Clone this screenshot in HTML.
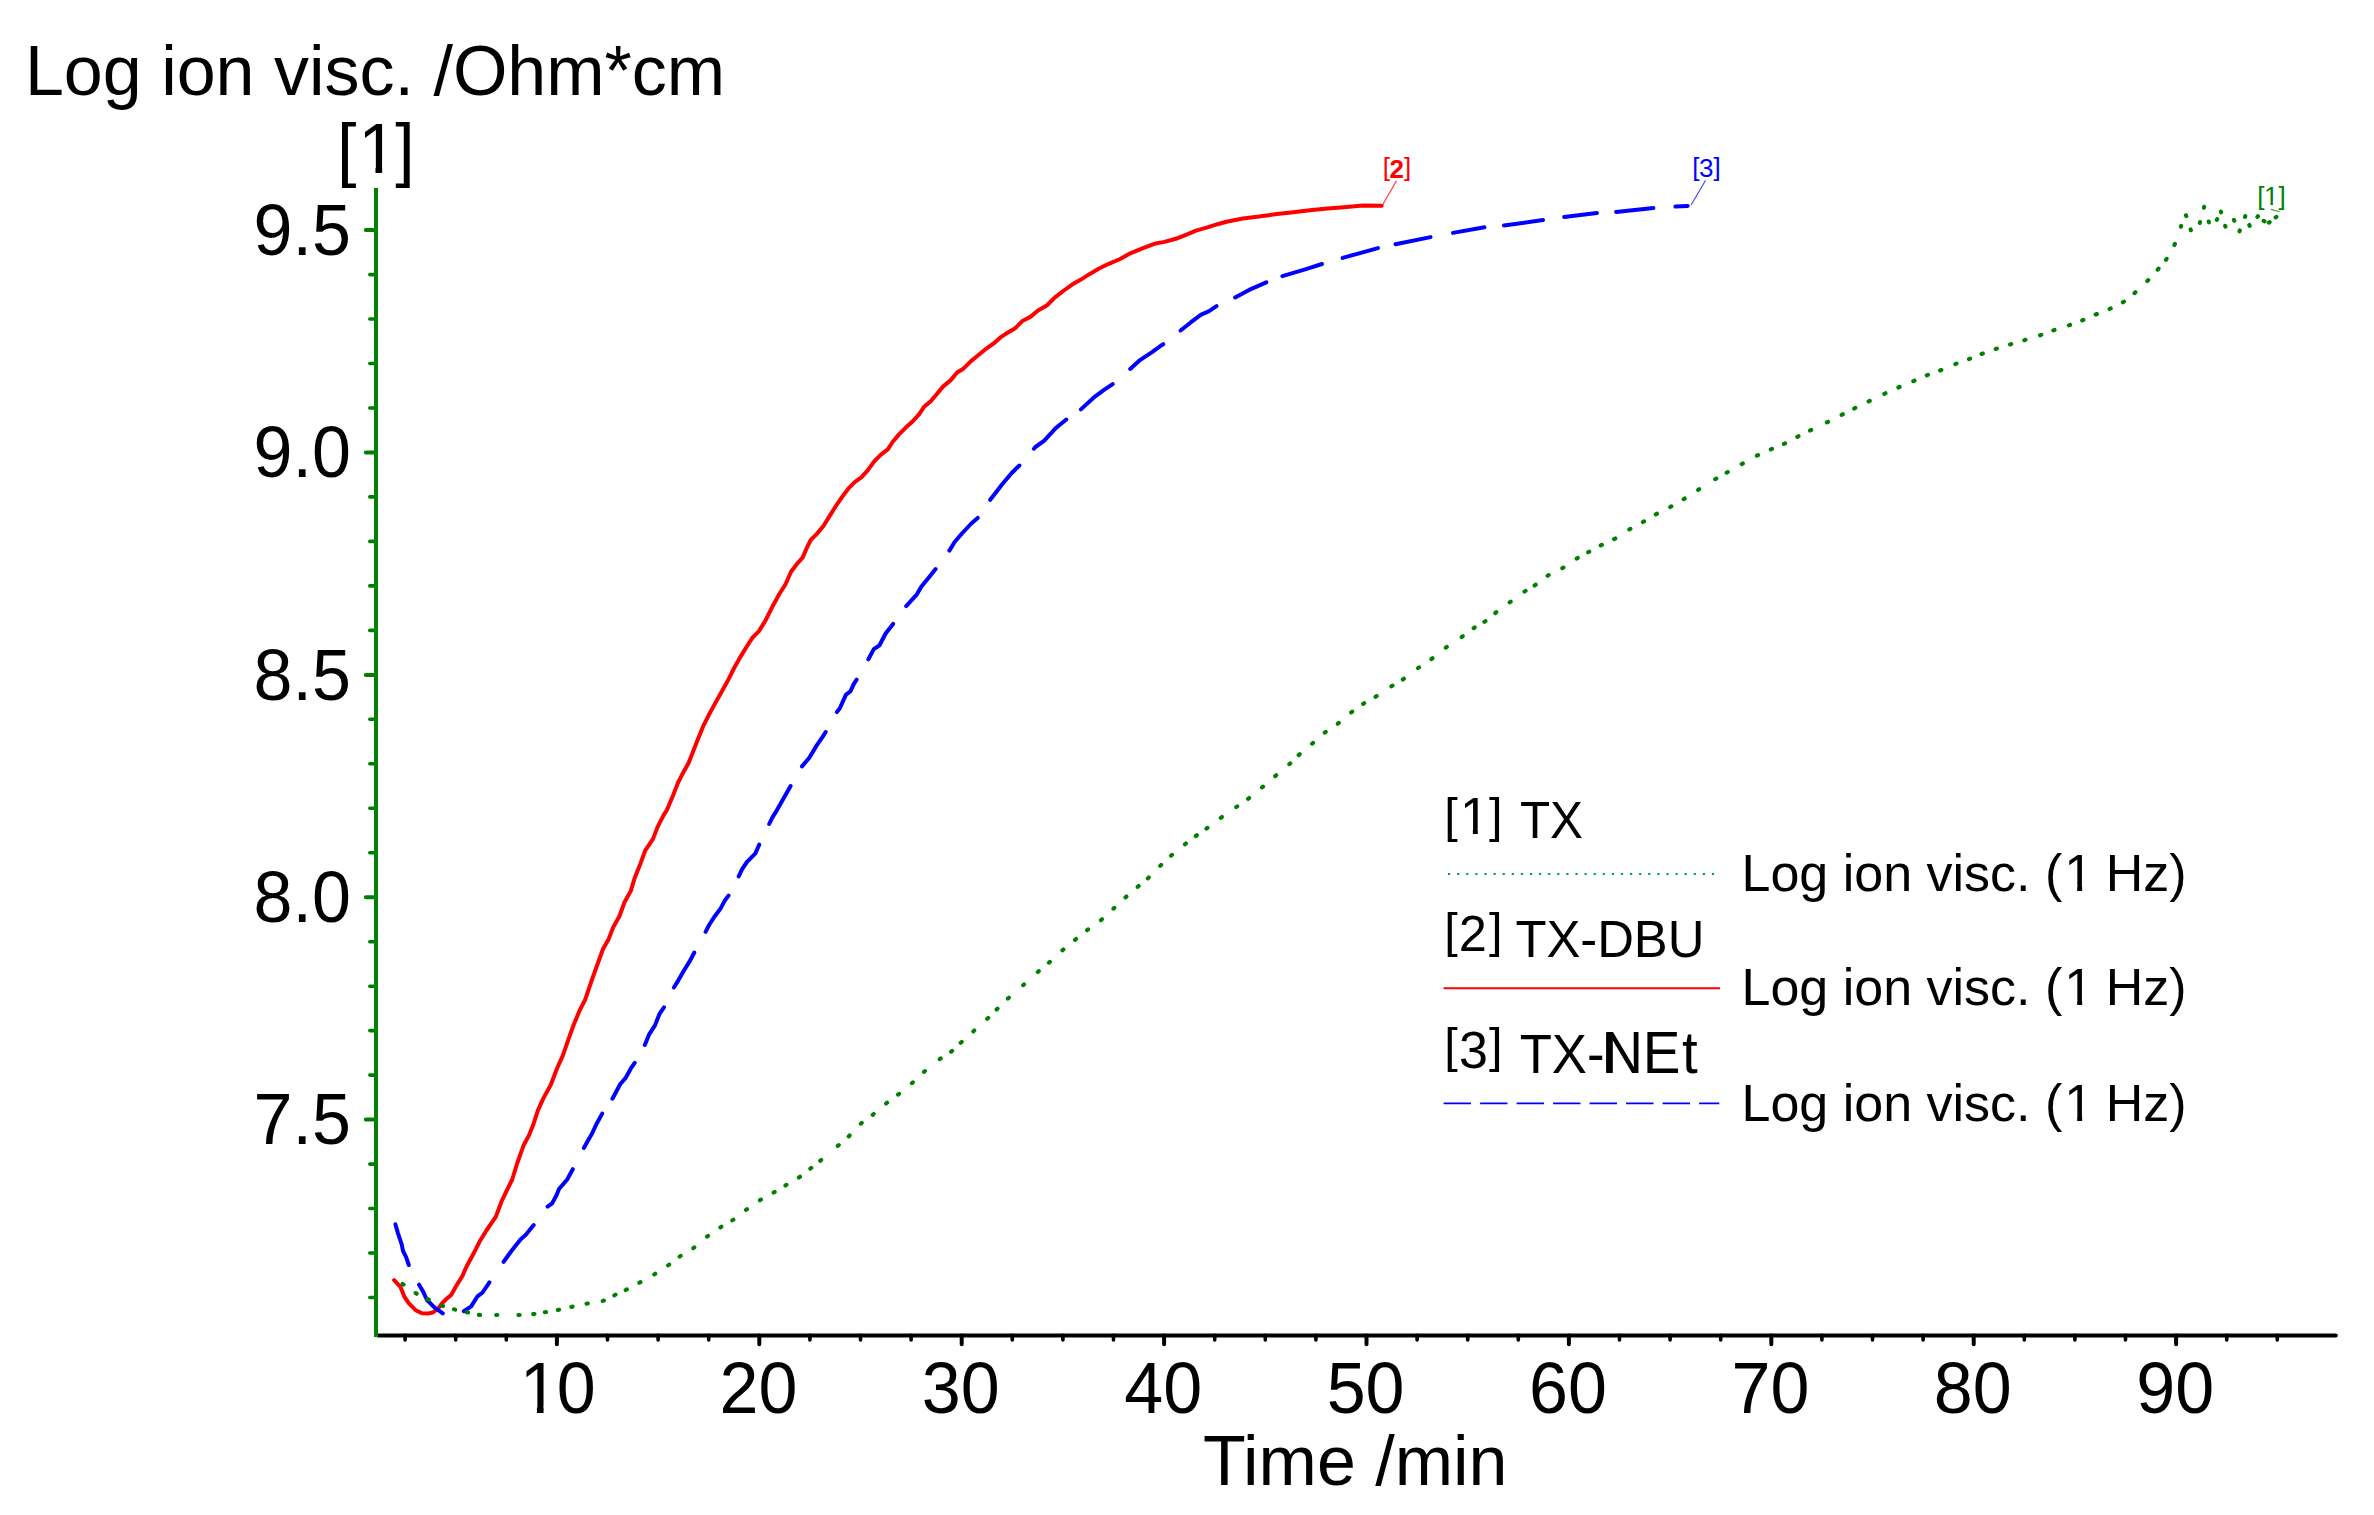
<!DOCTYPE html>
<html lang="en"><head><meta charset="utf-8"><title>Log ion visc. vs Time</title>
<style>html,body{margin:0;padding:0;background:#fff}body{width:2374px;height:1515px;overflow:hidden}svg{display:block}text{font-family:"Liberation Sans",Arial,Helvetica,sans-serif;fill:#000}</style></head><body>
<svg width="2374" height="1515" viewBox="0 0 2374 1515">
<rect width="2374" height="1515" fill="#fff"/>
<g fill="none" stroke-linejoin="round" stroke-linecap="round">
<path id="cred" d="M394.1 1280.1 L400.4 1286.8 L404.2 1296.3 L408.7 1303.2 L415.6 1310.2 L421.9 1313.3 L428.2 1313.6 L433.3 1312.3 L438.4 1308.3 L442.1 1303.2 L446.6 1298.8 L451.6 1294.4 L456.0 1286.2 L462.4 1276.0 L466.2 1267.2 L473.7 1253.3 L480.1 1240.7 L486.4 1230.5 L495.9 1216.6 L501.5 1201.5 L507.2 1189.6 L512.2 1179.5 L517.3 1163.0 L523.6 1145.3 L528.7 1135.9 L533.1 1125.1 L538.1 1109.9 L543.2 1098.6 L550.8 1084.7 L557.1 1068.2 L562.8 1055.6 L568.5 1039.2 L573.5 1025.3 L579.8 1010.1 L585.1 999.8 L591.6 980.6 L596.6 966.7 L603.0 949.0 L608.7 938.9 L613.1 927.5 L619.4 916.2 L624.5 902.3 L630.8 890.9 L634.6 878.2 L640.2 864.3 L645.3 850.4 L652.9 839.1 L657.3 827.7 L663.6 815.1 L667.0 809.8 L672.9 795.7 L677.9 783.0 L683.0 772.9 L688.7 762.8 L693.1 751.4 L698.1 738.8 L703.2 726.2 L708.9 714.8 L715.8 702.1 L721.5 692.0 L728.5 679.4 L734.1 668.0 L739.8 657.9 L746.8 646.5 L752.5 637.7 L758.8 631.4 L765.5 620.5 L772.9 605.7 L779.2 594.3 L785.5 584.2 L791.2 571.5 L796.9 564.0 L802.6 557.6 L807.0 547.5 L810.8 539.9 L817.1 533.6 L823.4 526.0 L829.7 515.9 L836.0 505.8 L843.0 495.7 L848.7 488.1 L855.0 481.8 L861.3 477.4 L867.7 470.4 L874.0 461.6 L880.9 454.6 L887.8 449.3 L892.6 442.0 L899.0 434.4 L905.3 428.1 L912.2 421.8 L919.2 414.2 L924.2 406.6 L930.5 401.5 L936.9 394.0 L943.2 386.4 L950.8 380.1 L957.1 372.5 L963.4 368.7 L971.0 361.1 L977.3 356.0 L984.9 349.7 L993.7 343.4 L1000.1 337.7 L1007.6 332.7 L1015.2 328.2 L1022.8 320.7 L1030.4 316.9 L1038.0 310.5 L1046.8 305.5 L1054.4 297.9 L1063.2 291.0 L1072.1 284.6 L1080.9 279.6 L1089.8 273.9 L1098.6 268.8 L1108.7 263.8 L1120.2 259.0 L1130.3 253.3 L1143.0 248.2 L1154.3 243.8 L1164.5 241.9 L1175.8 238.8 L1187.2 234.3 L1196.0 230.6 L1207.4 227.4 L1217.5 224.2 L1226.4 221.7 L1242.8 218.5 L1259.2 216.6 L1276.9 214.1 L1293.4 212.2 L1309.8 210.3 L1327.5 208.4 L1343.9 207.2 L1362.9 205.5 L1381.7 205.7" stroke="#ff0000" stroke-width="4"/>
<path id="cblue" d="M395.4 1224.2L397.9 1233.1L401.7 1244.4L403.0 1250.8L406.1 1257.1L408.8 1265.0M419.1 1284.7L423.2 1291.8L427.0 1300.0L434.6 1307.6L442.8 1313.4M463.8 1311.2L471.2 1306.4L477.5 1296.3L482.6 1292.5L489.4 1282.4M503.6 1261.8L511.6 1250.8L520.5 1239.4L525.6 1235.0L533.7 1225.1M547.6 1206.6L552.1 1203.4L556.5 1195.2L559.0 1189.0L567.2 1179.5L572.8 1169.2M583.9 1148.0L587.4 1141.5L591.8 1134.0L596.9 1123.2L602.2 1113.6M612.4 1098.7L615.9 1092.3L620.3 1084.0L625.3 1078.4L631.0 1068.2L634.7 1062.9M644.8 1045.0L649.3 1034.1L655.0 1025.3L659.5 1013.9L664.0 1007.4M673.9 987.5L678.2 980.6L683.2 971.8L690.2 960.4L694.3 952.5M705.6 931.8L709.1 925.0L714.8 916.2L720.5 908.6L724.9 900.4L728.5 895.6M738.7 876.4L742.0 869.4L747.0 861.8L755.2 853.6L757.8 847.9L759.2 844.7M769.2 824.0L772.3 817.6L776.7 810.6L790.6 786.0M802.0 766.4L809.3 757.7L816.9 745.1L822.6 736.9L825.7 732.0M836.9 712.0L839.7 708.5L846.0 694.6L850.4 691.4L853.6 684.4L856.6 679.6M868.4 659.3L873.8 649.1L879.5 645.3L885.8 633.3L893.1 623.9M906.2 606.1L916.9 594.3L921.3 586.7L929.6 576.6L935.6 569.1M949.4 550.6L954.8 541.8L962.4 533.0L971.3 523.5L977.7 517.9M990.2 499.8L995.3 493.2L1002.2 484.3L1011.7 473.0L1019.4 465.5M1033.9 448.7L1035.4 447.0L1044.3 440.7L1055.7 428.1L1062.0 423.0L1066.3 419.5M1080.9 409.4L1093.6 397.7L1103.7 390.2L1112.7 384.1M1130.2 369.0L1140.3 359.8L1151.7 352.3L1160.6 345.9L1163.3 344.2M1180.6 330.5L1191.0 322.2L1201.1 314.6L1208.7 311.4L1216.5 306.2M1235.1 297.5L1249.1 289.9L1266.3 282.3M1282.4 276.1L1306.0 269.1L1322.0 264.0M1342.6 257.9L1378.0 248.1M1395.5 244.2L1430.5 237.1M1453.0 232.9L1484.4 227.3M1504.0 225.4L1543.0 220.1M1564.2 217.1L1596.9 213.1M1616.1 211.9L1653.4 208.0M1675.4 206.6L1687.7 205.9" stroke="#0000ff" stroke-width="4"/>
<path id="cgreen" d="M402.5 1283.9l1.07 0.74M415.6 1293.1l1.12 0.67M427.6 1299.1l1.18 0.55M441.8 1305.5l1.21 0.47M453.9 1309.3l1.26 0.33M466.8 1312.2l1.27 0.28M478.8 1314.9l1.29 0.12M496.1 1315.0l1.30 0.00M518.4 1315.0l1.30 -0.04M533.2 1314.1l1.29 -0.14M544.8 1312.2l1.28 -0.22M557.8 1309.9l1.27 -0.25M571.3 1306.9l1.27 -0.27M586.5 1303.7l1.28 -0.25M602.7 1300.9l1.24 -0.38M614.3 1295.3l1.17 -0.56M625.7 1290.0l1.16 -0.59M639.3 1282.7l1.14 -0.62M654.2 1274.4l1.11 -0.68M668.1 1265.3l1.06 -0.75M679.6 1256.6l1.08 -0.73M693.3 1248.2l1.05 -0.77M707.0 1236.6l1.03 -0.79M720.3 1227.4l1.09 -0.70M732.3 1220.4l1.07 -0.73M746.0 1209.9l1.05 -0.76M759.9 1200.3l1.10 -0.69M773.6 1192.6l1.12 -0.65M785.4 1185.5l1.11 -0.67M798.9 1177.5l1.07 -0.73M810.3 1168.7l1.02 -0.80M820.2 1160.8l1.00 -0.83M837.8 1145.9l0.99 -0.85M848.7 1136.4l0.94 -0.90M860.8 1123.7l0.97 -0.87M872.7 1114.8l1.02 -0.81M886.1 1103.5l1.02 -0.81M898.0 1094.6l1.02 -0.80M911.9 1083.2l0.98 -0.85M924.0 1071.9l0.98 -0.85M939.7 1059.2l1.04 -0.78M951.1 1051.7l1.02 -0.80M960.7 1042.8l0.96 -0.88M973.3 1031.4l0.96 -0.87M987.2 1018.8l0.95 -0.89M996.6 1009.5l0.93 -0.91M1007.9 998.6l0.96 -0.88M1023.1 985.2l0.97 -0.86M1037.8 972.0l0.98 -0.85M1048.9 962.7l0.98 -0.86M1062.4 950.4l0.98 -0.86M1075.0 939.8l1.01 -0.82M1087.1 930.2l1.04 -0.79M1101.0 920.1l1.01 -0.82M1113.4 908.7l0.95 -0.88M1125.5 897.4l0.97 -0.87M1137.7 886.8l0.99 -0.84M1147.8 878.4l0.95 -0.89M1160.2 865.9l0.93 -0.91M1171.0 855.7l0.98 -0.85M1184.9 844.3l1.02 -0.81M1195.8 836.0l1.05 -0.77M1206.4 828.6l1.05 -0.77M1220.8 817.8l1.05 -0.76M1236.2 807.1l1.07 -0.74M1248.1 798.8l1.03 -0.79M1262.0 787.4l1.00 -0.83M1275.2 776.1l0.99 -0.84M1289.3 764.2l0.97 -0.87M1298.7 755.1l0.97 -0.87M1312.1 743.7l0.98 -0.85M1324.7 732.6l1.03 -0.80M1337.8 723.7l1.03 -0.79M1351.2 712.4l1.03 -0.80M1363.1 703.9l1.10 -0.70M1375.6 696.8l1.10 -0.69M1391.4 686.3l1.09 -0.70M1402.8 679.5l1.07 -0.73M1418.0 668.1l1.06 -0.76M1431.4 659.0l1.05 -0.77M1445.8 647.7l1.05 -0.76M1461.7 637.0l1.06 -0.75M1473.6 628.2l1.08 -0.72M1484.4 621.9l1.06 -0.75M1495.3 613.0l1.03 -0.79M1509.7 602.4l1.05 -0.77M1524.5 591.6l1.08 -0.73M1534.6 585.5l1.08 -0.73M1547.6 575.8l1.11 -0.68M1562.3 568.2l1.12 -0.66M1576.7 558.6l1.11 -0.68M1588.1 552.3l1.14 -0.63M1600.7 545.4l1.16 -0.59M1614.1 539.1l1.14 -0.63M1629.3 529.5l1.12 -0.66M1642.9 522.0l1.13 -0.64M1655.8 514.4l1.14 -0.63M1670.2 507.0l1.14 -0.62M1683.6 499.2l1.11 -0.68M1698.1 489.9l1.10 -0.70M1715.2 479.2l1.11 -0.67M1726.6 472.7l1.13 -0.64M1741.7 464.1l1.13 -0.64M1756.9 455.7l1.16 -0.59M1770.8 449.4l1.19 -0.52M1783.9 443.9l1.17 -0.56M1797.3 436.8l1.16 -0.59M1810.0 430.5l1.17 -0.57M1826.9 422.4l1.16 -0.58M1841.6 414.8l1.16 -0.59M1854.2 408.5l1.16 -0.58M1868.6 401.4l1.17 -0.57M1884.3 393.8l1.18 -0.55M1898.4 387.5l1.19 -0.52M1913.3 381.2l1.20 -0.51M1926.7 375.3l1.21 -0.48M1940.1 370.5l1.21 -0.47M1955.3 364.1l1.21 -0.48M1968.9 359.1l1.21 -0.47M1981.6 354.0l1.22 -0.46M1995.7 349.0l1.23 -0.41M2010.0 344.5l1.24 -0.38M2024.3 340.2l1.24 -0.38M2040.1 335.3l1.23 -0.42M2053.3 330.4l1.23 -0.42M2068.8 325.4l1.23 -0.43M2082.2 320.4l1.20 -0.49M2095.7 314.5l1.20 -0.50M2109.5 309.0l1.18 -0.54M2122.9 302.3l1.09 -0.70M2134.5 293.1l0.98 -0.86M2147.3 281.0l0.91 -0.93M2157.7 269.6l0.86 -0.98M2165.9 259.9l0.73 -1.08M2174.4 245.0l0.53 -1.19M2180.9 226.7l0.30 -0.85M2186.0 215.3l0.28 0.86M2190.6 229.4l0.28 0.86M2199.8 222.9l0.23 -0.87M2203.9 207.7l0.23 -0.87M2208.7 221.5l0.28 0.85M2216.8 219.9l0.42 -0.80M2220.9 211.5l0.26 0.86M2225.2 225.8l0.26 0.86M2233.9 219.9l0.42 0.80M2239.5 231.3l0.32 -0.84M2245.0 216.9l0.32 -0.84M2249.3 225.0l0.39 0.81M2257.4 216.9l0.61 -0.66M2263.7 220.8l0.74 0.52M2268.9 222.6l0.71 -0.55M2275.7 217.4l0.71 -0.55" stroke="#008000" stroke-width="4.1"/>
</g>
<g stroke="#000" stroke-linecap="round" fill="none">
<path d="M378 1335.4H2335.8" stroke-width="4"/>
<path d="M556.9 1335.4V1344.3M759.3 1335.4V1344.3M961.7 1335.4V1344.3M1164.1 1335.4V1344.3M1366.5 1335.4V1344.3M1568.9 1335.4V1344.3M1771.3 1335.4V1344.3M1973.7 1335.4V1344.3M2176.1 1335.4V1344.3" stroke-width="4"/>
<path d="M405.1 1335.4V1340M455.7 1335.4V1340M506.3 1335.4V1340M607.5 1335.4V1340M658.1 1335.4V1340M708.7 1335.4V1340M809.9 1335.4V1340M860.5 1335.4V1340M911.1 1335.4V1340M1012.3 1335.4V1340M1062.9 1335.4V1340M1113.5 1335.4V1340M1214.7 1335.4V1340M1265.3 1335.4V1340M1315.9 1335.4V1340M1417.1 1335.4V1340M1467.7 1335.4V1340M1518.3 1335.4V1340M1619.5 1335.4V1340M1670.1 1335.4V1340M1720.7 1335.4V1340M1821.9 1335.4V1340M1872.5 1335.4V1340M1923.1 1335.4V1340M2024.3 1335.4V1340M2074.9 1335.4V1340M2125.5 1335.4V1340M2226.7 1335.4V1340M2277.3 1335.4V1340" stroke-width="3.6"/>
</g>
<g stroke="#008000" fill="none">
<path d="M376 188V1337" stroke-width="4"/>
<path d="M365.8 1119.6H376M365.8 897.2H376M365.8 674.9H376M365.8 452.5H376M365.8 230.1H376" stroke-width="4" stroke-linecap="round"/>
<path d="M369.8 1297.5H376M369.8 1253.0H376M369.8 1208.5H376M369.8 1164.1H376M369.8 1075.1H376M369.8 1030.6H376M369.8 986.2H376M369.8 941.7H376M369.8 852.8H376M369.8 808.3H376M369.8 763.8H376M369.8 719.3H376M369.8 630.4H376M369.8 585.9H376M369.8 541.4H376M369.8 496.9H376M369.8 408.0H376M369.8 363.5H376M369.8 319.0H376M369.8 274.6H376" stroke-width="3.6" stroke-linecap="round"/>
</g>
<text id="title" x="24.9" y="95.4" font-size="70">Log ion visc. /Ohm*cm</text>
<text id="ax1" x="336.9" y="173.2" font-size="70">[<tspan dx="1.8">1</tspan><tspan dx="-1.8">]</tspan></text>
<text class="yl" transform="translate(350.9 254.9) scale(1 1.04)" font-size="70" text-anchor="end">9.5</text>
<text class="yl" transform="translate(350.9 477.3) scale(1 1.04)" font-size="70" text-anchor="end">9.0</text>
<text class="yl" transform="translate(350.9 699.6) scale(1 1.04)" font-size="70" text-anchor="end">8.5</text>
<text class="yl" transform="translate(350.9 922.0) scale(1 1.04)" font-size="70" text-anchor="end">8.0</text>
<text class="yl" transform="translate(350.9 1144.4) scale(1 1.04)" font-size="70" text-anchor="end">7.5</text>
<text class="xl" transform="translate(556.0 1413.2) scale(1 1.04)" font-size="70" text-anchor="middle"><tspan dx="1.7">1</tspan><tspan dx="-1.7">0</tspan></text>
<text class="xl" transform="translate(758.4 1413.2) scale(1 1.04)" font-size="70" text-anchor="middle">20</text>
<text class="xl" transform="translate(960.8 1413.2) scale(1 1.04)" font-size="70" text-anchor="middle">30</text>
<text class="xl" transform="translate(1163.2 1413.2) scale(1 1.04)" font-size="70" text-anchor="middle">40</text>
<text class="xl" transform="translate(1365.6 1413.2) scale(1 1.04)" font-size="70" text-anchor="middle">50</text>
<text class="xl" transform="translate(1568.0 1413.2) scale(1 1.04)" font-size="70" text-anchor="middle">60</text>
<text class="xl" transform="translate(1770.4 1413.2) scale(1 1.04)" font-size="70" text-anchor="middle">70</text>
<text class="xl" transform="translate(1972.8 1413.2) scale(1 1.04)" font-size="70" text-anchor="middle">80</text>
<text class="xl" transform="translate(2175.2 1413.2) scale(1 1.04)" font-size="70" text-anchor="middle">90</text>
<text id="xtitle" x="1202.9" y="1485" font-size="70">Time /min</text>
<text id="l2" style="fill:#ff0000"><tspan x="1382.77" y="176.00" font-size="26.00">[</tspan><tspan x="1389.42" y="177.90" font-size="26.00" font-weight="bold">2</tspan><tspan x="1403.90" y="176.00" font-size="26.00">]</tspan></text>
<path d="M1382.7 204.6L1396.6 180.6" stroke="#ff0000" stroke-width="1.1" fill="none" opacity=".75"/>
<text id="l3" style="fill:#0000ff"><tspan x="1692.27" y="175.90" font-size="26.00">[</tspan><tspan x="1698.92" y="176.70" font-size="26.00">3</tspan><tspan x="1713.40" y="175.90" font-size="26.00">]</tspan></text>
<path d="M1691.1 205L1705.6 180.3" stroke="#0000ff" stroke-width="1.1" fill="none" opacity=".75"/>
<text id="l1" style="fill:#008000"><tspan x="2257.37" y="204.50" font-size="26.00">[</tspan><tspan x="2264.02" y="204.60" font-size="26.00">1</tspan><tspan x="2278.50" y="204.50" font-size="26.00">]</tspan></text>
<path d="M2270.9 209.4L2279.5 211.7" stroke="#008000" stroke-width="1.1" fill="none" opacity=".75"/>
<text id="g1a"><tspan x="1444.21" y="832.40" font-size="48.6">[</tspan><tspan x="1460.00" y="833.70" font-size="52.0">1</tspan><tspan x="1489.04" y="832.40" font-size="48.6">]</tspan></text>
<text id="g2a"><tspan x="1444.21" y="947.20" font-size="48.6">[</tspan><tspan x="1458.80" y="951.20" font-size="50.5">2</tspan><tspan x="1489.04" y="947.20" font-size="48.6">]</tspan></text>
<text id="g3a"><tspan x="1444.21" y="1062.20" font-size="48.6">[</tspan><tspan x="1459.10" y="1067.50" font-size="52.0">3</tspan><tspan x="1489.04" y="1062.20" font-size="48.6">]</tspan></text>
<text id="g1b" transform="translate(1520.00 838.40) scale(1 1.060)" font-size="49.30">TX</text>
<text id="g2b" transform="translate(1515.40 956.50) scale(1 1.030)" font-size="50.80">TX-DBU</text>
<text id="g3b" transform="translate(0 1072.8) scale(1 1.05)"><tspan x="1519.7" y="0" font-size="52.7">TX-</tspan><tspan x="1602.2" font-size="56.5">N</tspan><tspan x="1642.7" font-size="56.5">E</tspan><tspan x="1682.0" font-size="56.5">t</tspan></text>
<rect x="1606.1" y="1032.3" width="6.7" height="40.6" fill="#000"/>
<text class="lg" x="1741.5" y="891.1" font-size="52">Log ion visc. (<tspan dx="2">1</tspan><tspan dx="-2"> Hz)</tspan></text>
<text class="lg" x="1741.5" y="1005.4" font-size="52">Log ion visc. (<tspan dx="2">1</tspan><tspan dx="-2"> Hz)</tspan></text>
<text class="lg" x="1741.5" y="1121.1" font-size="52">Log ion visc. (<tspan dx="2">1</tspan><tspan dx="-2"> Hz)</tspan></text>
<path d="M1448 874H1716" stroke="#00a040" stroke-width="2.2" stroke-dasharray="2.2 6.9" fill="none"/>
<path d="M1443.6 988.2H1720" stroke="#ff0000" stroke-width="1.9" fill="none"/>
<path d="M1443.6 1103.4H1719.3" stroke="#0000ff" stroke-width="1.9" stroke-dasharray="27.4 9.1" fill="none"/>
<path d="M361.65 166.44H375.48V174.48H361.65ZM382.13 166.44H395.26V174.48H382.13ZM523.12 1406.22H536.94V1414.49H523.12ZM543.59 1406.22H556.72V1414.49H543.59ZM2265.32 201.27H2270.46V205.70H2265.32ZM2272.93 201.27H2277.81V205.70H2272.93ZM1462.60 828.34H1472.87V834.91H1462.60ZM1477.81 828.34H1487.56V834.91H1477.81ZM2066.91 885.74H2077.18V892.31H2066.91ZM2082.12 885.74H2091.87V892.31H2082.12ZM2066.91 1000.04H2077.18V1006.61H2066.91ZM2082.12 1000.04H2091.87V1006.61H2082.12ZM2066.91 1115.74H2077.18V1122.31H2066.91ZM2082.12 1115.74H2091.87V1122.31H2082.12Z" fill="#fff"/>
</svg></body></html>
